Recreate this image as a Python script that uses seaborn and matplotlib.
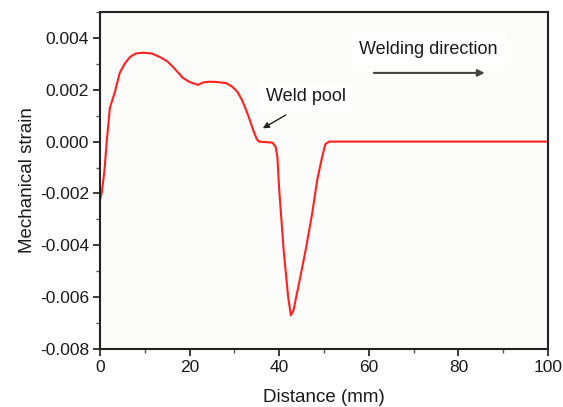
import numpy as np
import pandas as pd
import matplotlib
matplotlib.use('Agg')
import matplotlib.pyplot as plt
from matplotlib.ticker import MultipleLocator, FormatStrFormatter
import seaborn as sns

# values
distance = [0.0, 0.4, 1.0, 1.5, 2.2, 3.3, 4.4, 5.5, 6.7, 8.0, 9.6, 11.5, 13.3, 15.0,
            16.3, 17.5, 18.5, 20.0, 21.9, 23.0, 24.4, 26.0, 28.1, 29.5, 30.7, 31.7,
            32.6, 33.5, 34.4, 35.0, 35.5, 37.0, 38.5, 39.2, 39.6, 40.0, 41.0, 42.0,
            42.6, 43.2, 44.5, 46.0, 47.4, 48.5, 49.6, 50.3, 51.1, 60.0, 80.0, 100.0]
strain = [-0.00225, -0.00196, -0.0011, 0.0, 0.0013, 0.0019, 0.00265, 0.003, 0.00327,
          0.0034, 0.00343, 0.0034, 0.00327, 0.0031, 0.00288, 0.00265, 0.00246,
          0.0023, 0.00219, 0.00228, 0.00231, 0.0023, 0.00226, 0.00212, 0.00192,
          0.0016, 0.00123, 0.0008, 0.00035, 0.0001, 0.0, -0.00002, -0.00004,
          -0.0002, -0.0006, -0.00185, -0.0042, -0.006, -0.0067, -0.0065, -0.0054,
          -0.0041, -0.00273, -0.00146, -0.00058, -0.0001, 0.0, 0.0, 0.0, 0.0]

df = pd.DataFrame({'Distance': distance, 'Strain': strain})

sns.set_style('ticks')
plt.rcParams['font.family'] = ['Liberation Sans', 'DejaVu Sans']

fig = plt.figure(figsize=(5.63, 4.07), dpi=100)
ax = fig.add_axes([100 / 563, 58 / 407, 448 / 563, 337 / 407])
ax.set_facecolor('#fcfcfa')

sns.lineplot(data=df, x='Distance', y='Strain', color='#ff2020', linewidth=1.5, ax=ax)

ax.set_xlim(0, 100)
ax.set_ylim(-0.008, 0.005)
ax.xaxis.set_major_locator(MultipleLocator(20))
ax.xaxis.set_minor_locator(MultipleLocator(10))
ax.yaxis.set_major_locator(MultipleLocator(0.002))
ax.yaxis.set_minor_locator(MultipleLocator(0.001))
ax.yaxis.set_major_formatter(FormatStrFormatter('%.3f'))
ax.set_yticks([-0.008, -0.006, -0.004, -0.002, 0.0, 0.002, 0.004])

ax.tick_params(which='major', direction='out', length=5, width=1.2, labelsize=12.5,
               colors='#1a1a1a', pad=3)
ax.tick_params(which='minor', direction='out', length=3, width=1.0, colors='#555555')
for s in ax.spines.values():
    s.set_linewidth(1.5)
    s.set_color('#222222')

ax.set_xlabel('Distance (mm)', fontsize=13.5, color='#1a1a1a', labelpad=10)
ax.set_ylabel('Mechanical strain', fontsize=13.5, color='#1a1a1a', labelpad=3)

ax.text(73.3, 0.00355, 'Welding direction', fontsize=13, ha='center', va='center',
        color='#1a1a1a', bbox=dict(facecolor='white', edgecolor='none', pad=6))
ax.annotate('', xy=(86.5, 0.00265), xytext=(60.5, 0.00265),
            arrowprops=dict(arrowstyle='-|>', color='#444444', lw=1.5, mutation_scale=10))

ax.text(46.0, 0.00173, 'Weld pool', fontsize=13, ha='center', va='center',
        color='#1a1a1a', bbox=dict(facecolor='white', edgecolor='none', pad=4))
ax.annotate('', xy=(35.8, 0.00046), xytext=(42.0, 0.00108),
            arrowprops=dict(arrowstyle='-|>', color='#222222', lw=1.0, mutation_scale=9))

fig.savefig('out.png', dpi=100)
